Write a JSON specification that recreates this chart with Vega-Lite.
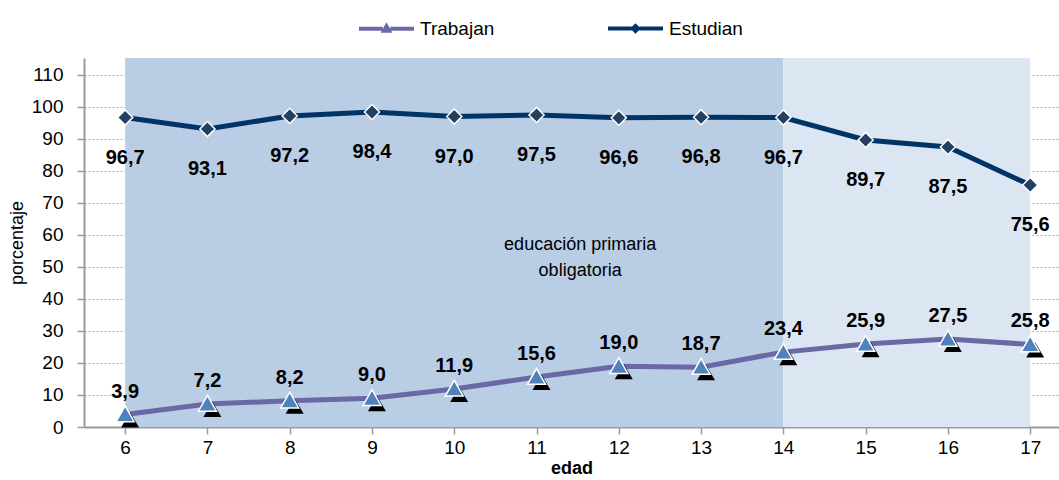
{
  "$schema": "https://vega.github.io/schema/vega-lite/v6.json",
  "width": 975,
  "height": 369,
  "autosize": {"type": "none"},
  "padding": {"left": 84, "top": 58, "right": 0, "bottom": 53},
  "background": "white",
  "config": {
    "locale": {"number": {"decimal": ",", "thousands": ".", "grouping": [3], "currency": ["", " €"]}},
    "font": "Liberation Sans",
    "view": {"stroke": null}
  },
  "data": {
    "values": [
      {"edad": 6, "serie": "Estudian", "valor": 96.7},
      {"edad": 7, "serie": "Estudian", "valor": 93.1},
      {"edad": 8, "serie": "Estudian", "valor": 97.2},
      {"edad": 9, "serie": "Estudian", "valor": 98.4},
      {"edad": 10, "serie": "Estudian", "valor": 97.0},
      {"edad": 11, "serie": "Estudian", "valor": 97.5},
      {"edad": 12, "serie": "Estudian", "valor": 96.6},
      {"edad": 13, "serie": "Estudian", "valor": 96.8},
      {"edad": 14, "serie": "Estudian", "valor": 96.7},
      {"edad": 15, "serie": "Estudian", "valor": 89.7},
      {"edad": 16, "serie": "Estudian", "valor": 87.5},
      {"edad": 17, "serie": "Estudian", "valor": 75.6},
      {"edad": 6, "serie": "Trabajan", "valor": 3.9},
      {"edad": 7, "serie": "Trabajan", "valor": 7.2},
      {"edad": 8, "serie": "Trabajan", "valor": 8.2},
      {"edad": 9, "serie": "Trabajan", "valor": 9.0},
      {"edad": 10, "serie": "Trabajan", "valor": 11.9},
      {"edad": 11, "serie": "Trabajan", "valor": 15.6},
      {"edad": 12, "serie": "Trabajan", "valor": 19.0},
      {"edad": 13, "serie": "Trabajan", "valor": 18.7},
      {"edad": 14, "serie": "Trabajan", "valor": 23.4},
      {"edad": 15, "serie": "Trabajan", "valor": 25.9},
      {"edad": 16, "serie": "Trabajan", "valor": 27.5},
      {"edad": 17, "serie": "Trabajan", "valor": 25.8}
    ]
  },
  "encoding": {
    "x": {
      "field": "edad", "type": "quantitative",
      "scale": {"domain": [5.5, 17.35], "nice": false, "zero": false},
      "axis": {
        "title": "edad", "titleFontSize": 18, "titleFontWeight": "bold", "titleColor": "#000",
        "titlePadding": 2,
        "values": [6, 7, 8, 9, 10, 11, 12, 13, 14, 15, 16, 17],
        "format": "d",
        "labelFontSize": 19, "labelColor": "#000", "labelPadding": 4,
        "domainColor": "#9a9a9a", "domainWidth": 2, "tickColor": "#9a9a9a", "tickWidth": 1.5, "tickSize": 7,
        "grid": false
      }
    },
    "y": {
      "field": "valor", "type": "quantitative",
      "scale": {"domain": [0, 115.3], "nice": false},
      "axis": {
        "title": "porcentaje", "titleFontSize": 18, "titleFontWeight": "normal", "titleColor": "#000", "titlePadding": 5,
        "values": [0, 10, 20, 30, 40, 50, 60, 70, 80, 90, 100, 110],
        "labelFontSize": 19, "labelColor": "#000", "labelPadding": 14,
        "domainColor": "#9a9a9a", "domainWidth": 2, "tickColor": "#9a9a9a", "tickWidth": 1.5, "tickSize": 7,
        "grid": true, "gridColor": "#b0b0b0", "gridDash": [2, 2], "gridWidth": 1
      }
    }
  },
  "layer": [
    {
      "data": {"values": [
        {"desde": 6, "hasta": 14, "tramo": "primaria"},
        {"desde": 14, "hasta": 17, "tramo": "posterior"}
      ]},
      "mark": {"type": "rect"},
      "encoding": {
        "x": {"field": "desde", "type": "quantitative"},
        "x2": {"field": "hasta"},
        "y": null,
        "fill": {"field": "tramo", "type": "nominal", "scale": {"domain": ["primaria", "posterior"], "range": ["#b9cde5", "#dce6f2"]}, "legend": null}
      }
    },
    {
      "mark": {"type": "line", "strokeWidth": 5, "strokeCap": "round"},
      "encoding": {
        "color": {
          "field": "serie", "type": "nominal",
          "scale": {"domain": ["Trabajan", "Estudian"], "range": ["#6b68a6", "#003366"]},
          "legend": {
            "orient": "none", "legendX": 273, "legendY": -59, "direction": "horizontal",
            "title": null, "padding": 0,
            "symbolType": "M-1,0L-0.14,0M0.14,0L1,0M-0.09,0.07L0,-0.09L0.09,0.07Z",
            "symbolSize": 3025, "symbolStrokeWidth": 4, "symbolOffset": 0,
            "labelFontSize": 19, "labelColor": "#000", "labelOffset": 4, "columnPadding": 105,
            "encode": {
              "symbols": {
                "update": {
                  "shape": {"signal": "datum.value === 'Estudian' ? 'M-1,0L-0.14,0M0.14,0L1,0M-0.09,0L0,-0.09L0.09,0L0,0.09Z' : 'M-1,0L-0.14,0M0.14,0L1,0M-0.09,0.07L0,-0.09L0.09,0.07Z'"}
                }
              }
            }
          }
        }
      }
    },
    {
      "transform": [{"filter": "datum.serie === 'Estudian'"}],
      "mark": {"type": "point", "shape": "diamond", "filled": true, "fill": "#243f60", "stroke": "white", "strokeWidth": 1.5, "size": 230, "opacity": 1}
    },
    {
      "transform": [{"filter": "datum.serie === 'Trabajan'"}],
      "mark": {"type": "point", "shape": "M0.55,-0.25L1.55,1.45L-0.45,1.45Z", "filled": true, "fill": "#000000", "strokeWidth": 0, "size": 324, "opacity": 1}
    },
    {
      "transform": [{"filter": "datum.serie === 'Trabajan'"}],
      "mark": {"type": "point", "shape": "M0,-0.95L1,0.8L-1,0.8Z", "filled": true, "fill": "#4f81bd", "stroke": "white", "strokeWidth": 1.5, "size": 324, "opacity": 1}
    },
    {
      "transform": [{"filter": "datum.serie === 'Estudian'"}],
      "mark": {"type": "text", "dy": 40, "fontSize": 20, "fontWeight": "bold", "color": "#000"},
      "encoding": {"text": {"field": "valor", "type": "quantitative", "format": ".1f"}}
    },
    {
      "transform": [{"filter": "datum.serie === 'Trabajan'"}],
      "mark": {"type": "text", "dy": -23, "fontSize": 20, "fontWeight": "bold", "color": "#000"},
      "encoding": {"text": {"field": "valor", "type": "quantitative", "format": ".1f"}}
    },
    {
      "data": {"values": [{"x": 11.53, "y": 57, "nota": ["educación primaria", "obligatoria"]}]},
      "mark": {"type": "text", "fontSize": 18, "color": "#000", "lineHeight": 26, "baseline": "middle"},
      "encoding": {
        "x": {"field": "x", "type": "quantitative"},
        "y": {"field": "y", "type": "quantitative"},
        "text": {"field": "nota"}
      }
    }
  ]
}
